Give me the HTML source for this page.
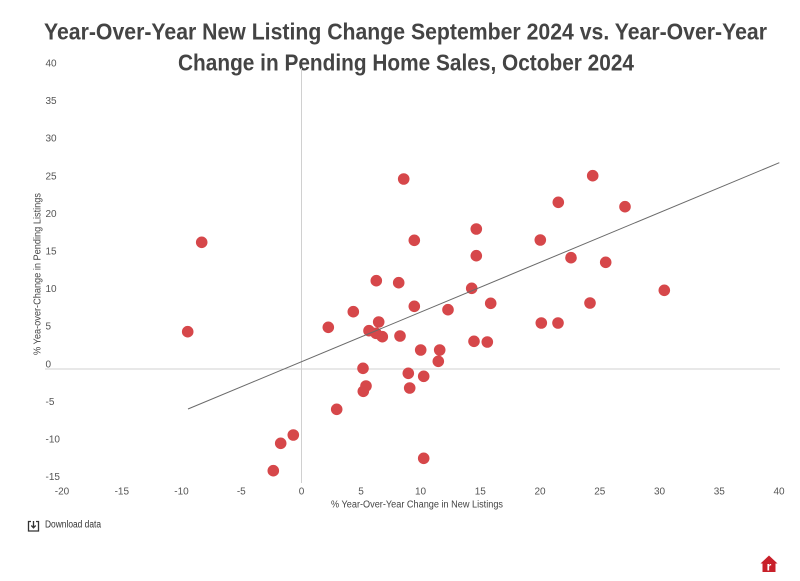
<!DOCTYPE html>
<html>
<head>
<meta charset="utf-8">
<style>
  html, body { margin: 0; padding: 0; background: #ffffff; }
  body { width: 800px; height: 581px; overflow: hidden; }
  svg { display: block; }
  text { font-family: "Liberation Sans", Arial, sans-serif; }
</style>
</head>
<body>
<svg width="800" height="581" viewBox="0 0 800 581" xmlns="http://www.w3.org/2000/svg">
  <rect x="0" y="0" width="800" height="581" fill="#ffffff"/>

  <text x="405.5" y="39.5" text-anchor="middle" font-size="23" font-weight="bold" fill="#444444" textLength="723" lengthAdjust="spacingAndGlyphs">Year-Over-Year New Listing Change September 2024 vs. Year-Over-Year</text>
  <text x="406" y="70.5" text-anchor="middle" font-size="23" font-weight="bold" fill="#444444" textLength="456" lengthAdjust="spacingAndGlyphs">Change in Pending Home Sales, October 2024</text>

  <path d="M45 369H780M301.5 68V483" stroke="#d0d0d0" stroke-width="1" fill="none"/>

  <g font-size="10" fill="#555555">
    <text x="45.5" y="66.5">40</text>
    <text x="45.5" y="104">35</text>
    <text x="45.5" y="141.5">30</text>
    <text x="45.5" y="179.5">25</text>
    <text x="45.5" y="217">20</text>
    <text x="45.5" y="254.5">15</text>
    <text x="45.5" y="292">10</text>
    <text x="45.5" y="329.5">5</text>
    <text x="45.5" y="367.5">0</text>
    <text x="45.5" y="405">-5</text>
    <text x="45.5" y="442.5">-10</text>
    <text x="45.5" y="480">-15</text>
  </g>

  <g font-size="10" fill="#555555" text-anchor="middle">
    <text x="62" y="494.5">-20</text>
    <text x="121.8" y="494.5">-15</text>
    <text x="181.5" y="494.5">-10</text>
    <text x="241.3" y="494.5">-5</text>
    <text x="301.5" y="494.5">0</text>
    <text x="361" y="494.5">5</text>
    <text x="420.5" y="494.5">10</text>
    <text x="480.3" y="494.5">15</text>
    <text x="540" y="494.5">20</text>
    <text x="599.8" y="494.5">25</text>
    <text x="659.5" y="494.5">30</text>
    <text x="719.3" y="494.5">35</text>
    <text x="779" y="494.5">40</text>
  </g>

  <text x="417" y="507.5" text-anchor="middle" font-size="10" fill="#444444" textLength="172" lengthAdjust="spacingAndGlyphs">% Year-Over-Year Change in New Listings</text>
  <text transform="translate(40.5,274) rotate(-90)" text-anchor="middle" font-size="10" fill="#444444" textLength="162" lengthAdjust="spacingAndGlyphs">% Yea-over-Change in Pending Listings</text>

  <path fill="none" stroke="#d6474a" stroke-width="11.6" stroke-linecap="round" d="M592.7 175.7h0M558.3 202.3h0M625 206.7h0M540.3 240h0M571 257.7h0M605.7 262.3h0M664.3 290.3h0M590 303h0M541.3 323h0M558 323h0M403.7 179h0M476.3 229h0M414.3 240.3h0M476.3 255.7h0M376.3 280.7h0M398.7 282.7h0M471.7 288.3h0M490.7 303.3h0M414.3 306.3h0M353.3 311.7h0M448 309.7h0M328.3 327.3h0M378.7 322h0M369 330.7h0M376 333.3h0M382.3 336.7h0M400 336h0M474 341.3h0M487.3 342h0M420.7 350h0M439.7 350h0M438.3 361.3h0M363 368.3h0M408.3 373.3h0M423.7 376.3h0M366 386h0M363.3 391.3h0M409.7 388h0M336.7 409.3h0M201.7 242.3h0M187.7 331.7h0M293.3 435h0M280.7 443.3h0M273.3 470.7h0M423.7 458.3h0"/>

  <path d="M188 409L779.3 162.7" stroke="#6a6a6a" stroke-width="1" fill="none"/>

  <path d="M31 521.5H28.5V531H38.5V521.5H36M33.5 521V527.5M31.3 525.5L33.5 527.8L35.7 525.5" fill="none" stroke="#333333" stroke-width="1.3"/>
  <text x="45" y="527.5" font-size="10" fill="#333333" textLength="56" lengthAdjust="spacingAndGlyphs">Download data</text>

  <polygon points="769,555.5 777.5,563.5 775.5,563.5 775.5,572 762.5,572 762.5,563.5 760.5,563.5" fill="#c8202a"/>
  <text x="769" y="570.5" text-anchor="middle" font-family="Liberation Serif, serif" font-size="12" font-weight="bold" fill="#ffffff">r</text>
</svg>
</body>
</html>
